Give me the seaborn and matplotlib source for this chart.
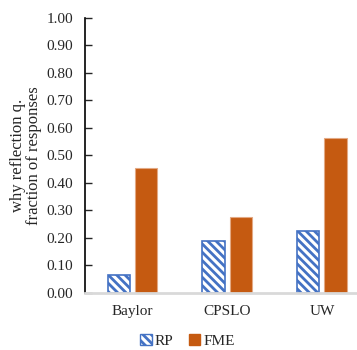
import numpy as np
import pandas as pd
import seaborn as sns
import matplotlib.pyplot as plt
from matplotlib.patches import Patch

schools = ["Baylor", "CPSLO", "UW"]
rp = [0.065, 0.19, 0.225]
fme = [0.455, 0.275, 0.565]

blue = "#4472C4"
orange = "#C55A11"

df = pd.DataFrame({
    "school": schools * 2,
    "group": ["RP"] * 3 + ["FME"] * 3,
    "value": rp + fme,
})

sns.set_style("white")
plt.rcParams["font.family"] = ["Liberation Serif", "DejaVu Serif"]
plt.rcParams["hatch.color"] = blue
plt.rcParams["hatch.linewidth"] = 2.0

fig = plt.figure(figsize=(3.57, 3.50), dpi=100)
ax = fig.add_axes([0.238, 0.163, 0.762, 0.786])

sns.barplot(data=df, x="school", y="value", hue="group",
            palette={"RP": "white", "FME": orange}, saturation=1,
            width=0.575, gap=0.185, ax=ax, legend=False)

# RP bars: white with blue diagonal hatch
for bar in ax.patches[:3]:
    bar.set_facecolor("white")
    bar.set_edgecolor(blue)
    bar.set_hatch("\\\\\\\\")
    bar.set_linewidth(1.2)
for bar in ax.patches[3:6]:
    bar.set_edgecolor("#E3A984")
    bar.set_linewidth(0.8)

ax.set_ylim(0, 1.0)
ax.set_xlim(-0.5, 2.37)
ax.set_yticks(np.arange(0, 1.01, 0.1))
ax.set_yticklabels([f"{v:.2f}" for v in np.arange(0, 1.01, 0.1)], fontsize=11)
ax.tick_params(axis="y", left=True, direction="in", length=5, width=1, pad=8.5)
ax.tick_params(axis="x", bottom=False, labelsize=11, pad=5)
ax.set_xlabel("")
ax.set_ylabel("why reflection q.\nfraction of responses", fontsize=12, labelpad=3,
              linespacing=1.05)

for s in ["top", "right"]:
    ax.spines[s].set_visible(False)
ax.spines["left"].set_color("black")
ax.spines["left"].set_linewidth(1.2)
ax.spines["bottom"].set_color("#D9D9D9")
ax.spines["bottom"].set_linewidth(2)

handles = [Patch(facecolor="white", edgecolor=blue, hatch="\\\\\\\\", label="RP"),
           Patch(facecolor=orange, edgecolor=orange, label="FME")]
fig.legend(handles=handles, loc="center", bbox_to_anchor=(0.525, 0.025), ncol=2,
           frameon=False, fontsize=11, handlelength=0.75, handleheight=0.75,
           handletextpad=0.2, columnspacing=1.0, borderpad=0)

fig.savefig("out.png", dpi=100)
